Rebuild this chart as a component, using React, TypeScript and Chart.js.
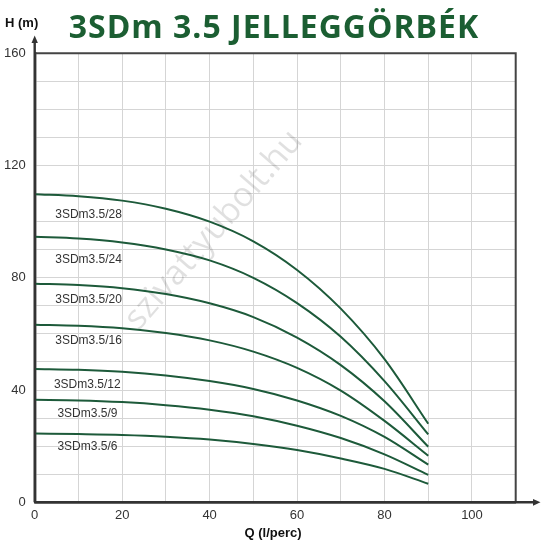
import { useEffect, useRef } from "react";
import Chart, { ChartConfiguration, Plugin } from "chart.js/auto";

// Q (l/perc) sample points
const flow = [0, 10, 20, 30, 40, 50, 60, 70, 80, 90];

// H (m) for each pump model
const h28 = [109.8, 109.1, 107.5, 104.6, 100.0, 93.0, 82.8, 69.0, 51.0, 28.0];
const h24 = [94.6, 94.0, 92.6, 90.1, 86.2, 80.0, 71.0, 59.0, 43.2, 24.2];
const h20 = [77.9, 77.4, 76.3, 74.2, 70.9, 66.0, 58.7, 48.9, 36.0, 19.8];
const h16 = [63.3, 62.9, 62.0, 60.3, 57.7, 53.7, 47.9, 39.8, 29.0, 16.6];
const h12 = [47.5, 47.2, 46.5, 45.2, 43.2, 40.4, 36.3, 30.8, 23.3, 13.4];
const h9 = [36.5, 36.3, 35.7, 34.6, 33.0, 30.7, 27.3, 22.9, 17.1, 9.8];
const h6 = [24.5, 24.3, 24.0, 23.4, 22.4, 20.8, 18.6, 15.6, 11.9, 6.6];

const models = ["3SDm3.5/28", "3SDm3.5/24", "3SDm3.5/20", "3SDm3.5/16", "3SDm3.5/12", "3SDm3.5/9", "3SDm3.5/6"];
const heads = [h28, h24, h20, h16, h12, h9, h6];

// where each curve name sits (in data units)
const labelQ = [4.7, 4.7, 4.7, 4.7, 4.4, 5.2, 5.2];
const labelH = [102.6, 86.3, 72.3, 57.5, 41.8, 31.6, 19.9];

const title = "3SDm 3.5 JELLEGGÖRBÉK";
const watermark = "szivattyubolt.hu";

const lineColor = "#1d5a3a";
const textFont = "'Liberation Sans', Arial, sans-serif";

const decor: Plugin<"line"> = {
  id: "decor",
  beforeDatasetsDraw(chart) {
    const { ctx } = chart;
    ctx.save();
    ctx.translate(214, 230);
    ctx.rotate((-49 * Math.PI) / 180);
    ctx.font = "34px 'Open Sans', sans-serif";
    ctx.fillStyle = "rgba(0,0,0,0.12)";
    ctx.textAlign = "center";
    ctx.textBaseline = "middle";
    ctx.fillText(watermark, 0, 0);
    ctx.restore();
  },
  afterDraw(chart) {
    const { ctx, chartArea: a, scales } = chart;
    ctx.save();

    // frame top + right
    ctx.strokeStyle = "#444";
    ctx.lineWidth = 2;
    ctx.beginPath();
    ctx.moveTo(a.left, a.top);
    ctx.lineTo(a.right, a.top);
    ctx.lineTo(a.right, a.bottom);
    ctx.stroke();

    // axes with arrows
    ctx.strokeStyle = "#333";
    ctx.fillStyle = "#333";
    ctx.lineWidth = 2.4;
    ctx.beginPath();
    ctx.moveTo(a.left, a.bottom);
    ctx.lineTo(a.left, 41);
    ctx.moveTo(a.left, a.bottom);
    ctx.lineTo(534, a.bottom);
    ctx.stroke();
    ctx.beginPath();
    ctx.moveTo(a.left, 35.5);
    ctx.lineTo(a.left - 3.2, 43);
    ctx.lineTo(a.left + 3.2, 43);
    ctx.closePath();
    ctx.fill();
    ctx.beginPath();
    ctx.moveTo(540.5, a.bottom);
    ctx.lineTo(533, a.bottom - 3.4);
    ctx.lineTo(533, a.bottom + 3.4);
    ctx.closePath();
    ctx.fill();

    // curve names
    ctx.fillStyle = "#333";
    ctx.font = `12px ${textFont}`;
    ctx.textAlign = "left";
    ctx.textBaseline = "middle";
    models.forEach((m, i) => {
      ctx.fillText(m, scales.x.getPixelForValue(labelQ[i]), scales.y.getPixelForValue(labelH[i]));
    });

    // axis names
    ctx.fillStyle = "#111";
    ctx.font = `bold 13px ${textFont}`;
    ctx.textBaseline = "alphabetic";
    ctx.fillText("H (m)", 5, 26.5);
    ctx.textAlign = "center";
    ctx.fillText("Q (l/perc)", 273, 537);

    // title
    ctx.fillStyle = "#1b5e32";
    ctx.font = "bold 32px 'Open Sans', sans-serif";
    (ctx as any).letterSpacing = "1px";
    ctx.fillText(title, 274, 38);
    ctx.restore();
  },
};

export default function App() {
  const canvasRef = useRef<HTMLCanvasElement | null>(null);
  const chartRef = useRef<Chart<"line"> | null>(null);

  useEffect(() => {
    if (!canvasRef.current) return;
    const config: ChartConfiguration<"line"> = {
      type: "line",
      data: {
        datasets: heads.map((h, i) => ({
          label: models[i],
          data: flow.map((q, j) => ({ x: q, y: h[j] })),
          borderColor: lineColor,
          borderWidth: 2,
          pointRadius: 0,
          fill: false,
          cubicInterpolationMode: "monotone" as const,
        })),
      },
      options: {
        animation: false,
        responsive: true,
        maintainAspectRatio: false,
        layout: { padding: { top: 53.3, right: 29.3, left: 0, bottom: 0 } },
        plugins: { legend: { display: false }, tooltip: { enabled: false } },
        scales: {
          x: {
            type: "linear",
            min: 0,
            max: 110,
            afterFit: (s) => {
              s.height = 43.7;
            },
            ticks: {
              stepSize: 10,
              autoSkip: false,
              maxRotation: 0,
              padding: 5,
              color: "#333",
              font: { family: textFont, size: 13 },
              callback: (v) => (Number(v) % 20 === 0 && Number(v) <= 100 ? String(v) : ""),
            },
            grid: { color: "#d5d5d5", lineWidth: 1, drawTicks: false },
            border: { display: true, color: "#333", width: 2.4 },
          },
          y: {
            type: "linear",
            min: 0,
            max: 160,
            afterFit: (s) => {
              s.width = 34.7;
            },
            ticks: {
              stepSize: 10,
              autoSkip: false,
              padding: 9,
              color: "#333",
              font: { family: textFont, size: 13 },
              callback: (v) => (Number(v) % 40 === 0 ? String(v) : ""),
            },
            grid: { color: "#d5d5d5", lineWidth: 1, drawTicks: false },
            border: { display: true, color: "#333", width: 2.4 },
          },
        },
      },
      plugins: [decor],
    };
    chartRef.current?.destroy();
    chartRef.current = new Chart(canvasRef.current, config);
    return () => {
      chartRef.current?.destroy();
      chartRef.current = null;
    };
  }, []);

  return (
    <div style={{ position: "fixed", left: 0, top: 0, width: 545, height: 546, background: "#fff" }}>
      <canvas ref={canvasRef} />
    </div>
  );
}
